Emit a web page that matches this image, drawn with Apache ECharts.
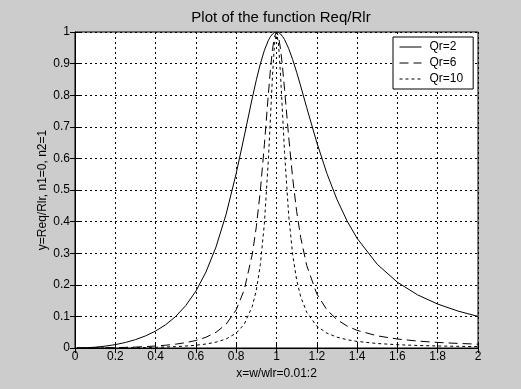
<!DOCTYPE html>
<html>
<head>
<meta charset="utf-8">
<script src="https://cdn.jsdelivr.net/npm/echarts@6/dist/echarts.min.js"></script>
<style>
  html, body { margin: 0; padding: 0; background: #cccccc; }
  #chart { width: 521px; height: 389px; }
</style>
</head>
<body>
<div id="chart"></div>
<script>
// Normalised frequency x = w/wlr
const xs = [0.01, 0.05, 0.1, 0.15, 0.2, 0.25, 0.3, 0.35, 0.4, 0.45, 0.5, 0.55, 0.6, 0.65, 0.7, 0.75,
  0.8, 0.84, 0.88, 0.9, 0.92, 0.94, 0.96, 0.97, 0.98, 0.99, 1.0, 1.01, 1.02, 1.03, 1.04, 1.06,
  1.08, 1.1, 1.12, 1.15, 1.2, 1.25, 1.3, 1.35, 1.4, 1.5, 1.6, 1.7, 1.8, 1.9, 2.0];

// Req/Rlr for each quality factor
const qr2 = [0.0000, 0.0006, 0.0025, 0.0059, 0.0107, 0.0175, 0.0265, 0.0383, 0.0536, 0.0737, 0.1000,
  0.1345, 0.1800, 0.2405, 0.3200, 0.4235, 0.5525, 0.6705, 0.7918, 0.8487, 0.8997, 0.9422, 0.9740,
  0.9854, 0.9935, 0.9984, 1.0000, 0.9984, 0.9938, 0.9862, 0.9760, 0.9484, 0.9133, 0.8728, 0.8289,
  0.7607, 0.6503, 0.5525, 0.4702, 0.4024, 0.3471, 0.2647, 0.2082, 0.1682, 0.1390, 0.1170, 0.1000];
const qr6 = [0.0000, 0.0001, 0.0003, 0.0007, 0.0012, 0.0020, 0.0030, 0.0044, 0.0063, 0.0088, 0.0122,
  0.0170, 0.0238, 0.0340, 0.0497, 0.0755, 0.1206, 0.1844, 0.2971, 0.3840, 0.4991, 0.6443, 0.8064,
  0.8821, 0.9445, 0.9857, 1.0000, 0.9859, 0.9465, 0.8882, 0.8186, 0.6714, 0.5392, 0.4325, 0.3500,
  0.2610, 0.1712, 0.1206, 0.0898, 0.0696, 0.0558, 0.0385, 0.0284, 0.0220, 0.0176, 0.0145, 0.0122];
const qr10 = [0.0000, 0.0000, 0.0001, 0.0002, 0.0004, 0.0007, 0.0011, 0.0016, 0.0023, 0.0032, 0.0044,
  0.0062, 0.0087, 0.0125, 0.0185, 0.0285, 0.0471, 0.0753, 0.1321, 0.1833, 0.2640, 0.3947, 0.5999,
  0.7293, 0.8596, 0.9612, 1.0000, 0.9619, 0.8644, 0.7410, 0.6190, 0.4238, 0.2964, 0.2153, 0.1624,
  0.1128, 0.0692, 0.0471, 0.0343, 0.0262, 0.0208, 0.0142, 0.0104, 0.0080, 0.0064, 0.0053, 0.0044];

const seriesNames = ['Qr=2', 'Qr=6', 'Qr=10'];
const xTicks = ['0', '0.2', '0.4', '0.6', '0.8', '1', '1.2', '1.4', '1.6', '1.8', '2'];

const pairs = ys => xs.map((x, i) => [x, ys[i]]);
const font = 'Liberation Sans, Arial, sans-serif';

const chart = echarts.init(document.getElementById('chart'));

const gridLine = { show: true, lineStyle: { color: '#000', width: 1, type: [2, 3] } };
const tickIn = { show: true, inside: true, length: 5, lineStyle: { color: '#000' } };

chart.setOption({
  backgroundColor: '#cccccc',
  animation: false,
  title: {
    text: 'Plot of the function Req/Rlr',
    left: 276, top: 5, textAlign: 'center',
    textStyle: { fontFamily: font, fontSize: 15, fontWeight: 'normal', color: '#000' }
  },
  legend: {
    data: seriesNames,
    orient: 'vertical',
    left: 393, top: 37,
    width: 78,
    padding: [4, 10, 4, 6],
    itemWidth: 22, itemHeight: 10, itemGap: 4,
    backgroundColor: '#fff',
    borderColor: '#000', borderWidth: 1, borderRadius: 0,
    itemStyle: { opacity: 0 },
    lineStyle: { width: 1 },
    textStyle: { fontFamily: font, fontSize: 12, color: '#000', padding: [0, 0, 0, 3] },
    inactiveColor: '#000'
  },
  grid: {
    left: 75, right: 43, top: 32, bottom: 41,
    show: true, backgroundColor: '#fff', borderColor: '#000', borderWidth: 1
  },
  xAxis: [{
    type: 'value', min: 0, max: 2, interval: 0.2,
    name: 'x=w/wlr=0.01:2', nameLocation: 'middle', nameGap: 19,
    nameTextStyle: { fontFamily: font, fontSize: 12, color: '#000' },
    axisLine: { show: true, lineStyle: { color: '#000' } },
    axisTick: tickIn,
    axisLabel: {
      fontFamily: font, fontSize: 12, color: '#000', margin: 3,
      formatter: v => xTicks[Math.round(v / 0.2)]
    },
    splitLine: gridLine
  }, {
    type: 'value', min: 0, max: 2, interval: 0.2, position: 'top',
    axisLine: { show: false }, axisTick: tickIn, axisLabel: { show: false }, splitLine: { show: false }
  }],
  yAxis: [{
    type: 'value', min: 0, max: 1, interval: 0.1,
    name: 'y=Req/Rlr, n1=0, n2=1', nameLocation: 'middle', nameGap: 26,
    nameMoveOverlap: false,
    nameTextStyle: { fontFamily: font, fontSize: 12, color: '#000' },
    axisLine: { show: true, lineStyle: { color: '#000' } },
    axisTick: tickIn,
    axisLabel: {
      fontFamily: font, fontSize: 12, color: '#000', margin: 5,
      formatter: v => (v === 0 ? '0' : v === 1 ? '1' : v.toFixed(1))
    },
    splitLine: gridLine
  }, {
    type: 'value', min: 0, max: 1, interval: 0.1, position: 'right',
    axisLine: { show: false }, axisTick: tickIn, axisLabel: { show: false }, splitLine: { show: false }
  }],
  series: [
    { name: seriesNames[0], type: 'line', data: pairs(qr2), showSymbol: false, symbol: 'none',
      lineStyle: { color: '#000', width: 1, type: 'solid' }, itemStyle: { color: '#000' } },
    { name: seriesNames[1], type: 'line', data: pairs(qr6), showSymbol: false, symbol: 'none',
      lineStyle: { color: '#000', width: 1, type: [9, 5] }, itemStyle: { color: '#000' } },
    { name: seriesNames[2], type: 'line', data: pairs(qr10), showSymbol: false, symbol: 'none',
      lineStyle: { color: '#000', width: 1, type: [3, 3] }, itemStyle: { color: '#000' } }
  ]
});
</script>
</body>
</html>
